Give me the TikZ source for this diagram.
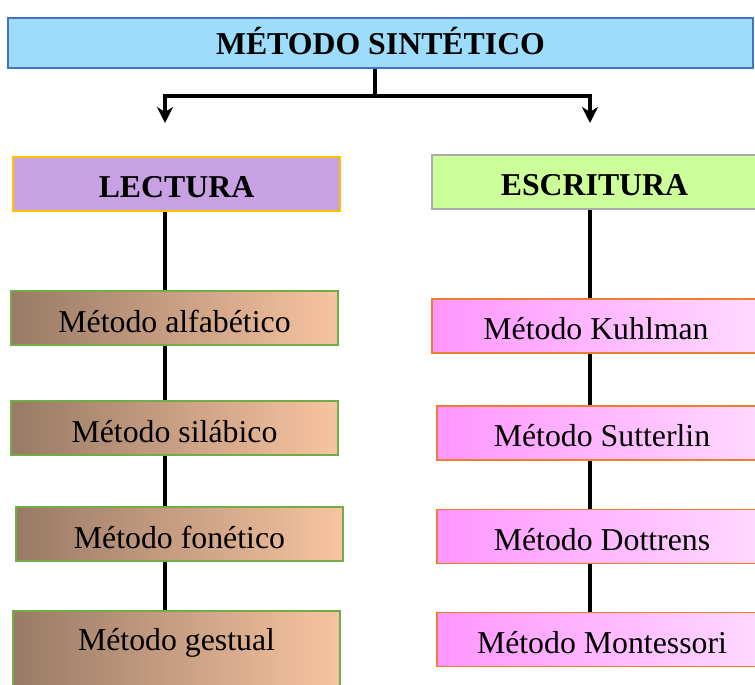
\documentclass[tikz,border=0pt]{standalone}
\usepackage{fontspec}
\setmainfont{Liberation Serif}
\usetikzlibrary{arrows.meta,backgrounds}
\definecolor{topfill}{RGB}{157,221,251}
\definecolor{topline}{RGB}{68,114,196}
\definecolor{lecfill}{RGB}{200,160,228}
\definecolor{lecline}{RGB}{255,192,0}
\definecolor{escfill}{RGB}{204,255,153}
\definecolor{escline}{RGB}{170,170,170}
\definecolor{brownL}{RGB}{152,122,102}
\definecolor{brownR}{RGB}{248,196,160}
\definecolor{greenline}{RGB}{112,173,71}
\definecolor{pinkL}{RGB}{255,150,255}
\definecolor{pinkR}{RGB}{255,218,255}
\definecolor{orangeline}{RGB}{237,125,49}
\tikzset{mytip/.tip={Stealth[length=16pt,width=16pt,inset=5pt]}}
\begin{document}
\begin{tikzpicture}[x=1pt,y=-1pt,
  every node/.style={font=\fontsize{31.8}{36}\selectfont, inner sep=0pt},
  title/.style={draw, line width=1.8pt, font=\fontsize{31.8}{36}\selectfont\bfseries, text height=40.5pt, text depth=13.5pt, minimum height=54pt},
  leftbox/.style={draw=greenline, line width=1.8pt, left color=brownL, right color=brownR, minimum width=327pt, text height=41pt, text depth=13pt, minimum height=54pt},
  rightbox/.style={draw=orangeline, line width=1.8pt, left color=pinkL, right color=pinkR, text height=40.5pt, text depth=13.5pt, minimum height=54pt},
  conn/.style={line width=4.5pt, black}]
\useasboundingbox (0,0) rectangle (755,685);
\clip (0,0) rectangle (755,685);
\node[title, fill=topfill, draw=topline, minimum width=745pt, text height=37pt, text depth=13pt, minimum height=50pt] (top) at (380.5,43) {MÉTODO SINTÉTICO};
\node[title, fill=lecfill, draw=lecline, minimum width=327pt] (lectura) at (176.5,184) {LECTURA};
\node[title, fill=escfill, draw=escline, minimum width=325pt] (escritura) at (594.5,182) {ESCRITURA};
\node[leftbox] (alfa) at (174.5,318) {Método alfabético};
\node[leftbox] (sila) at (174.5,428) {Método silábico};
\node[leftbox] (fone) at (179.5,534) {Método fonético};
\node[leftbox, anchor=north, minimum height=0pt, text height=40pt, text depth=40pt] (gest) at (176.5,610) {Método gestual};
\node[rightbox, minimum width=328pt] (kuhl) at (596,326) {Método Kuhlman};
\node[rightbox, minimum width=330pt] (sutt) at (602,433) {Método Sutterlin};
\node[rightbox, minimum width=330pt] (dott) at (602,536.5) {Método Dottrens};
\node[rightbox, minimum width=330pt] (mont) at (602,639.5) {Método Montessori};
\coordinate (j) at (375,96);
\coordinate (a1) at (165,123);
\coordinate (a2) at (590,123);
\coordinate (lx) at (165,0);
\coordinate (rx) at (590,0);
\begin{pgfonlayer}{background}
\draw[conn] (top.south -| j) -- (j);
\draw[conn, line join=miter, {mytip}-{mytip}] (a1) |- (j) -| (a2);
\draw[conn] (lectura.south -| lx) -- (gest.north -| lx);
\draw[conn] (escritura.south -| rx) -- (mont.north -| rx);
\end{pgfonlayer}
\end{tikzpicture}
\end{document}
